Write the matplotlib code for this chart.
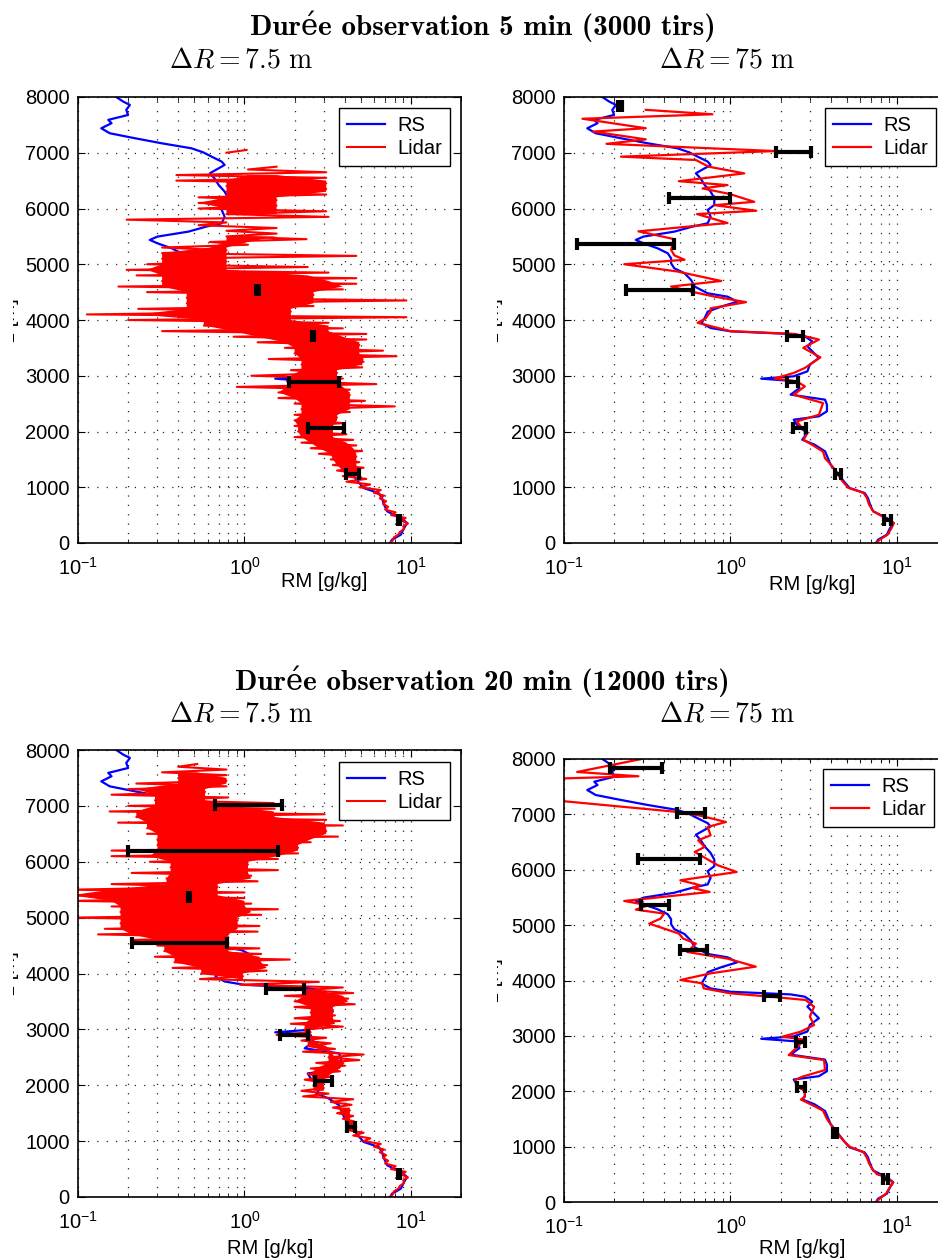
import numpy as np
import matplotlib
matplotlib.use('Agg')
import matplotlib.pyplot as plt
from matplotlib.ticker import LogLocator, FixedLocator, NullFormatter, FixedFormatter
from matplotlib.transforms import Bbox, TransformedBbox

plt.rcParams['font.family'] = ['Liberation Sans', 'DejaVu Sans']
plt.rcParams['mathtext.fontset'] = 'custom'
plt.rcParams['mathtext.rm'] = 'Liberation Sans'
plt.rcParams['mathtext.it'] = 'Liberation Sans:italic'
plt.rcParams['mathtext.bf'] = 'Liberation Sans:bold'

nan = np.nan

# ---------------- Data ----------------
# Radiosonde profile (same for all panels)
rs_z = [0, 59, 149, 268, 358, 448, 568, 687, 807, 896, 986, 1106, 1285, 1405, 1524, 1644,
        1764, 1853, 1913, 2003, 2122, 2212, 2272, 2362, 2481, 2571, 2661, 2780, 2900, 2948,
        2990, 3079, 3199, 3318, 3438, 3528, 3617, 3707, 3749, 3797, 3857, 3946, 4036, 4150,
        4240, 4329, 4419, 4479, 4599, 4718, 4838, 4927, 5017, 5107, 5197, 5286, 5376, 5436,
        5496, 5585, 5675, 5735, 5854, 5974, 6064, 6183, 6303, 6422, 6542, 6632, 6721, 6781,
        6841, 6930, 7008, 7080, 7170, 7260, 7350, 7439, 7530, 7590, 7678, 7768, 7858, 7917, 8000]
rs_x = [7.5, 7.7, 8.7, 9.1, 9.5, 8.7, 7.2, 6.9, 6.7, 6.4, 5.2, 4.8, 4.3, 4.0, 3.85, 3.7,
        3.2, 2.7, 2.8, 2.8, 2.5, 2.4, 3.4, 3.8, 3.8, 3.7, 2.3, 2.6, 2.5, 1.53,
        2.4, 2.9, 3.0, 3.4, 3.1, 2.9, 3.1, 2.8, 2.3, 1.0, 0.76, 0.67, 0.70, 0.73,
        0.88, 1.1, 0.96, 0.73, 0.61, 0.58, 0.53, 0.46, 0.44, 0.44, 0.42, 0.365, 0.30, 0.27,
        0.30, 0.46, 0.59, 0.73, 0.76, 0.73, 0.80, 0.80, 0.76, 0.70, 0.66, 0.62, 0.70, 0.76,
        0.73, 0.635, 0.565, 0.48, 0.318, 0.22, 0.155, 0.138, 0.159, 0.152, 0.20, 0.195, 0.205, 0.187, 0.17]

# Lidar, dR = 7.5 m : envelope of the noisy profile (low / high excursions) every 100 m
hr_z = list(range(0, 8001, 100))
hr5_lo = [7.5, 7.9, 8.6, 9.0, 8.8, 7.6, 7.0, 6.8, 6.5, 6.0,
          4.9, 4.1, 3.9, 3.6, 3.4, 3.3, 2.8, 2.5, 2.2, 2.0,
          2.1, 2.0, 2.0, 2.0, 2.2, 2.0, 1.6, 1.6, 0.9, 1.8,
          1.1, 1.9, 2.2, 1.4, 2.0, 1.75, 1.2, 0.86, 0.32, 0.57,
          0.2, 0.113, 0.23, 0.45, 0.45, 0.26, 0.175, 0.32, 0.225, 0.196,
          0.26, 0.32, 0.32, 0.32, 0.62, 0.78, 0.78, 0.53, 0.196, 0.78,
          0.53, 0.53, 0.53, 0.78, 0.78, 0.39, 0.39, 1.05, nan, nan,
          0.78, nan, nan, nan, nan, nan, nan, nan, nan, nan, nan]
hr5_hi = [7.8, 8.4, 9.1, 9.6, 9.3, 8.1, 7.3, 7.1, 6.9, 6.6,
          5.7, 5.4, 4.9, 5.2, 4.9, 4.7, 5.1, 4.7, 4.5, 4.1,
          3.4, 4.0, 3.6, 4.3, 8.0, 5.3, 4.3, 4.3, 6.2, 3.9,
          3.6, 5.1, 5.2, 8.2, 6.8, 4.9, 5.4, 5.4, 3.9, 3.2,
          9.4, 1.9, 2.6, 9.4, 2.6, 3.9, 4.7, 4.7, 3.2, 2.4,
          0.78, 4.7, 0.78, 1.05, 2.36, 1.56, 1.56, 0.78, 3.2, 3.1,
          1.56, 1.56, 3.1, 3.1, 3.1, 3.1, 3.1, 1.56, nan, nan,
          1.03, nan, nan, nan, nan, nan, nan, nan, nan, nan, nan]
hr20_lo = [7.5, 7.9, 8.6, 9.0, 8.8, 7.6, 7.0, 6.8, 6.5, 6.0,
           5.2, 4.5, 4.1, 4.1, 3.9, 3.6, 3.4, 3.3, 2.25, 2.2,
           2.6, 2.3, 2.4, 2.5, 2.7, 3.2, 2.25, 2.4, 2.2, 1.56,
           2.3, 1.9, 2.0, 2.5, 2.0, 2.0, 1.75, 2.3, 0.94, 0.54,
           0.55, 0.37, 0.38, 0.29, 0.33, 0.30, 0.21, 0.132, 0.145, 0.18,
           0.09, 0.18, 0.159, 0.09, 0.09, 0.09, 0.159, 0.34, 0.21, 0.36,
           0.27, 0.159, 0.159, 0.30, 0.30, 0.26, 0.26, 0.174, 0.224, 0.155,
           0.2, 0.29, 0.159, 0.2, 0.224, 0.4, 0.32, 0.4, nan, nan, 0.4]
hr20_hi = [7.8, 8.4, 9.1, 9.6, 9.3, 8.1, 7.3, 7.1, 6.9, 6.6,
           5.7, 5.2, 4.7, 4.6, 4.5, 4.3, 4.4, 4.5, 3.2, 3.0,
           3.0, 3.3, 3.75, 4.0, 4.9, 5.2, 3.5, 3.3, 3.1, 2.5,
           3.9, 3.75, 3.5, 3.4, 4.6, 4.2, 4.5, 3.9, 2.8, 0.98,
           1.36, 1.37, 1.87, 1.26, 1.23, 0.8, 0.8, 1.2, 1.23, 0.91,
           1.26, 1.59, 1.1, 1.0, 1.0, 0.69, 1.2, 1.1, 1.59, 1.05,
           1.59, 2.1, 2.1, 2.5, 3.65, 3.1, 3.9, 3.1, 3.03, 1.52,
           1.5, 0.8, 0.58, 0.78, 0.78, 0.78, 0.78, 0.52, nan, nan, 1.03]

# Lidar, dR = 75 m
lr5_z = [0, 60, 150, 270, 360, 450, 570, 690, 810, 900, 990, 1110, 1290, 1410, 1520, 1640,
         1760, 1850, 1970, 2060, 2180, 2300, 2510, 2660, 2810, 2900, 2950, 3050, 3140, 3330,
         3500, 3650, 3750, 3800, 3950, 4030, 4150, 4210, 4320, 4420, 4510, 4600, 4700, 4870,
         5000, 5080, 5160, 5260, 5360, 5450, 5590, 5680, 5740, 5900, 5960, 6060, 6120, 6260,
         6360, 6420, 6490, 6630, 6750, 6870, 6930, 7030, 7160, 7240, 7380, 7440, 7610, 7690, 7770]
lr5_x = [7.5, 7.9, 8.8, 9.3, 9.6, 8.5, 7.2, 6.8, 6.6, 6.3, 5.1, 4.7, 4.3, 4.0, 3.7, 3.6,
         3.1, 2.75, 2.9, 2.7, 2.5, 3.4, 3.6, 2.4, 2.8, 2.5, 1.84, 2.4, 2.8, 3.47,
         2.74, 3.4, 2.43, 1.0, 0.635, 0.71, 0.76, 0.76, 1.24, 0.8, 0.58, 0.44, 0.88, 0.48,
         0.23, 0.53, 0.46, 0.44, 0.45, 0.46, 0.28, 0.58, 0.96, 0.63, 1.43, 0.8, 1.39, 0.99,
         0.68, 0.96, 0.49, 1.21, 0.74, 0.62, 0.22, 1.87, 0.18, 0.31, 0.15, 0.31, 0.129, 0.78, 0.31]
lr20_z = [0, 50, 150, 250, 350, 450, 500, 600, 700, 800, 900, 1000, 1100, 1200, 1300, 1400,
          1500, 1650, 1750, 1850, 1900, 2000, 2100, 2203, 2263, 2383, 2564, 2654, 2835, 2937,
          2985, 3076, 3196, 3347, 3527, 3648, 3708, 3768, 3858, 3949, 4009, 4129, 4250, 4395,
          4515, 4666, 4756, 4847, 4937, 5027, 5117, 5208, 5280, 5358, 5436, 5599, 5671, 5719,
          5810, 5960, 6081, 6321, 6412, 6532, 6622, 6773, 6863, 6984, 7044, 7300, 7500, 7646,
          7688, 7766, 8007]
lr20_x = [7.5, 7.8, 8.6, 9.0, 9.5, 8.6, 7.6, 7.1, 6.8, 6.6, 6.3, 5.2, 4.8, 4.5, 4.3, 4.0,
          3.8, 3.6, 3.1, 2.65, 2.8, 2.8, 2.5, 2.45, 2.7, 3.7, 3.65, 2.24, 2.6, 2.7,
          2.05, 2.64, 3.18, 3.0, 3.18, 2.83, 1.74, 1.0, 0.69, 0.68, 0.50, 0.76, 1.42, 0.96,
          0.55, 0.62, 0.52, 0.49, 0.40, 0.325, 0.38, 0.40, 0.27, 0.32, 0.23, 0.75, 0.59, 0.66,
          0.50, 1.09, 0.84, 0.61, 0.70, 0.64, 0.76, 0.73, 0.94, 0.64, 0.48, 0.06, 0.06, 0.09,
          0.28, 0.12, 0.30]

# Error bars
eb_z = [420, 1245, 2070, 2895, 3720, 4545, 5370, 6195, 7020, 7845]
eb5_hr_x = [8.5, 4.47, 3.19, 2.77, 2.57, 1.2, nan, nan, nan, nan]
eb5_hr_e = [0.1, 0.41, 0.78, 0.93, 0.04, 0.02, nan, nan, nan, nan]
eb5_lr_x = [8.8, 4.44, 2.6, 2.37, 2.47, 0.416, 0.29, 0.71, 2.45, 0.217]
eb5_lr_e = [0.4, 0.2, 0.24, 0.17, 0.27, 0.18, 0.17, 0.28, 0.58, 0.005]
eb20_hr_x = [8.5, 4.36, 3.0, 2.03, 1.82, 0.50, 0.465, 0.9, 1.18, nan]
eb20_hr_e = [0.1, 0.25, 0.35, 0.39, 0.47, 0.29, 0.005, 0.7, 0.51, nan]
eb20_lr_x = [8.6, 4.25, 2.65, 2.63, 1.79, 0.61, 0.36, 0.47, 0.59, 0.29]
eb20_lr_e = [0.3, 0.12, 0.15, 0.17, 0.19, 0.11, 0.07, 0.19, 0.11, 0.1]

titles_main = ['Durée observation 5 min (3000 tirs)',
               'Durée observation 20 min (12000 tirs)']
sub_titles = [r'$\Delta R = 7.5\ \mathrm{m}$', r'$\Delta R = 75\ \mathrm{m}$']
xlabel = 'RM [g/kg]'
ylabel = 'z [m]'
legend_labels = ['RS', 'Lidar']

# ---------------- Figure ----------------
W, H = 938, 1258
fig = plt.figure(figsize=(W / 100, H / 100), dpi=100)


def zigzag(z, lo, hi):
    zz, xx = [], []
    for zi, a, b in zip(z, lo, hi):
        zz += [zi, zi + 50]
        xx += [a, b]
    return np.array(xx), np.array(zz)


def core_band(lo, hi):
    # dense core of the noisy profile: excursions shared by neighbouring levels
    lo = np.asarray(lo, float)
    hi = np.asarray(hi, float)
    lo_p = np.concatenate([[nan], lo, [nan]])
    hi_p = np.concatenate([[nan], hi, [nan]])
    clo = np.max(np.vstack([lo_p[:-2], lo_p[1:-1], lo_p[2:]]), axis=0)
    chi = np.min(np.vstack([hi_p[:-2], hi_p[1:-1], hi_p[2:]]), axis=0)
    clo[0], chi[0] = max(lo[0], lo[1]), min(hi[0], hi[1])
    bad = ~(chi > clo)
    clo[bad] = nan
    chi[bad] = nan
    return clo, chi


def axpos(l, t, r, b):
    return [l / W, 1 - b / H, (r - l) / W, (b - t) / H]


panels = [
    dict(pos=axpos(78, 97, 461, 543), kind='hr', lo=hr5_lo, hi=hr5_hi, ebx=eb5_hr_x, ebe=eb5_hr_e,
         leg=(0.971, 0.975), xl=(0.642, -0.065), yl_x=19),
    dict(pos=axpos(564, 97, 947, 543), kind='lr', lz=lr5_z, lx=lr5_x, ebx=eb5_lr_x, ebe=eb5_lr_e,
         leg=(0.971, 0.975), xl=(0.648, -0.072), yl_x=503),
    dict(pos=axpos(78, 750, 461, 1197), kind='hr', lo=hr20_lo, hi=hr20_hi, ebx=eb20_hr_x, ebe=eb20_hr_e,
         leg=(0.971, 0.973), xl=(0.501, -0.094), yl_x=19),
    dict(pos=axpos(564, 759, 947, 1202), kind='lr', lz=lr20_z, lx=lr20_x, ebx=eb20_lr_x, ebe=eb20_lr_e,
         leg=(0.966, 0.977), xl=(0.621, -0.084), yl_x=503),
]

FS = 14.5
for p in panels:
    ax = fig.add_axes(p['pos'])
    ax.set_xscale('log')
    l_rs, = ax.plot(rs_x, rs_z, color='#0000ff', lw=1.6, label=legend_labels[0])
    if p['kind'] == 'hr':
        clo, chi = core_band(p['lo'], p['hi'])
        ax.fill_betweenx(hr_z, clo, chi, color='#ff0000', lw=0, zorder=2.1)
        xx, zz = zigzag(hr_z, p['lo'], p['hi'])
        l_li, = ax.plot(xx, zz, color='#ff0000', lw=1.5, label=legend_labels[1], zorder=2.2)
    else:
        l_li, = ax.plot(p['lx'], p['lz'], color='#ff0000', lw=1.6, label=legend_labels[1])
    ax.errorbar(p['ebx'], eb_z, xerr=p['ebe'], fmt='none', ecolor='k', elinewidth=3.0,
                capsize=4.5, capthick=3.0, zorder=5)
    ax.set_xlim(0.1, 20)
    ax.set_ylim(0, 8000)
    ax.xaxis.set_major_locator(FixedLocator([0.1, 1, 10]))
    ax.xaxis.set_major_formatter(FixedFormatter([r'$10^{-1}$', r'$10^{0}$', r'$10^{1}$']))
    ax.xaxis.set_minor_locator(LogLocator(base=10, subs=np.arange(2, 10)))
    ax.xaxis.set_minor_formatter(NullFormatter())
    ax.yaxis.set_major_locator(FixedLocator(np.arange(0, 8001, 1000)))
    ax.tick_params(which='both', direction='in', top=True, right=True, labelsize=FS)
    ax.tick_params(which='major', length=5, width=0.8, pad=6)
    ax.tick_params(which='minor', length=3, width=0.6)
    ax.tick_params(axis='x', which='major', pad=10)
    ax.grid(True, which='major', axis='both', linestyle=(0, (1, 6.5)), color='0.15', lw=0.9)
    ax.grid(True, which='minor', axis='x', linestyle=(0, (1, 6.5)), color='0.15', lw=0.9)
    for s in ax.spines.values():
        s.set_linewidth(1.2)
    ax.set_xlabel(xlabel, fontsize=FS)
    ax.xaxis.set_label_coords(*p['xl'])
    leg = ax.legend(handles=[l_rs, l_li], loc='upper right', bbox_to_anchor=p['leg'],
                    borderaxespad=0, fontsize=FS, fancybox=False, edgecolor='k', framealpha=1,
                    handlelength=1.9, handletextpad=0.6, labelspacing=0.2, borderpad=0.4)
    leg.get_frame().set_linewidth(1.0)
    # y label, clipped at the left as in the original
    bb = p['pos']
    t = fig.text(p['yl_x'] / W, bb[1] + bb[3] / 2, ylabel, rotation=90, ha='right', va='center',
                 fontsize=FS)
    clip = TransformedBbox(Bbox([[(p['yl_x'] - 6) / W, 0], [1, 1]]), fig.transFigure)
    t.set_clip_box(clip)
    t.set_clip_on(True)

# Titles
title_font = dict(family=['cmb10', 'DejaVu Serif'], fontsize=21)
fig.text(483 / W, 1 - 35 / H, titles_main[0], ha='center', va='baseline', **title_font)
fig.text(482 / W, 1 - 690 / H, titles_main[1], ha='center', va='baseline', **title_font)
for yb in (67, 721):
    fig.text(241 / W, 1 - yb / H, sub_titles[0], ha='center', va='baseline', fontsize=20,
             math_fontfamily='cm')
    fig.text(727 / W, 1 - yb / H, sub_titles[1], ha='center', va='baseline', fontsize=20,
             math_fontfamily='cm')

fig.savefig('out.png', dpi=100)
